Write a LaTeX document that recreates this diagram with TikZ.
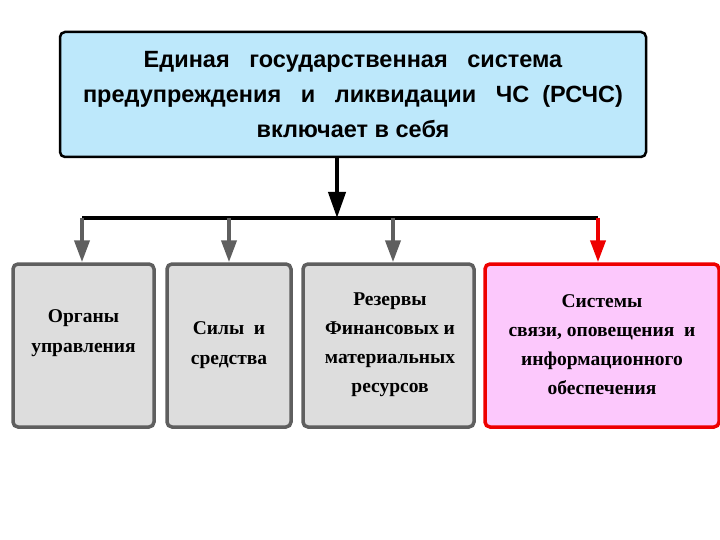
\documentclass[tikz,border=0pt]{standalone}
\usepackage{fontspec}
\setmainfont{Liberation Serif}
\setsansfont{Liberation Sans}
\usetikzlibrary{arrows.meta}
\definecolor{topfill}{HTML}{BDE8FB}
\definecolor{boxgray}{HTML}{5F5F5F}
\definecolor{boxfill}{HTML}{DDDDDD}
\definecolor{pinkfill}{HTML}{FCC8FC}
\definecolor{alertred}{HTML}{EE0000}
\begin{document}
\begin{tikzpicture}[x=1pt,y=1pt]
  \tikzset{
    part/.style={draw=boxgray, line width=3.5pt, fill=boxfill, rounded corners=5pt,
      inner sep=0pt, align=center},
    label/.style={font=\bfseries\fontsize{19.5}{29}\selectfont, align=center},
    feed/.style={draw=boxgray, line width=4pt, -{Triangle[width=15pt,length=22pt]}}
  }
  \useasboundingbox (0,0) rectangle (720,-540);
  % top block
  \node [draw=black, line width=2.5pt, fill=topfill, rounded corners=5pt,
    minimum width=586pt, minimum height=125pt, align=center,
    font=\sffamily\bfseries\fontsize{23.5}{35}\selectfont] (rschs) at (353,-94.5)
    {Единая \ \ государственная \ \ система\\
     предупреждения \ \ и \ \ ликвидации \ \ ЧС \ (РСЧС)\\
     включает в себя};
  % lower blocks
  \node [part, minimum width=141pt, minimum height=163pt] (organs) at (83.5,-345.5) {};
  \node [part, minimum width=124pt, minimum height=163pt] (forces) at (229,-345.5) {};
  \node [part, minimum width=171pt, minimum height=163pt] (reserves) at (388.5,-345.5) {};
  \node [part, draw=alertred, fill=pinkfill, minimum width=234pt, minimum height=163pt] (comms) at (602,-345.5) {};
  \node [label, font=\bfseries\fontsize{19.5}{30}\selectfont] (organsT) at (83.5,-333) {Органы\\управления};
  \node [label, font=\bfseries\fontsize{19.5}{30}\selectfont] (forcesT) at (229,-345) {Силы \ и\\средства};
  \node [label] (reservesT) at (390,-345) {Резервы\\Финансовых и\\материальных\\ресурсов};
  \node [label] (commsT) at (602,-345) {Системы\\ связи, оповещения \ и\\информационного\\обеспечения};
  % connectors
  \coordinate (hub) at (337,-218);
  \coordinate (barL) at (82,-218);
  \coordinate (barR) at (598,-218);
  \coordinate (b2) at (229,-218);
  \coordinate (b3) at (393,-218);
  \draw [line width=4pt, -{Triangle[width=17pt,length=26pt]}] (rschs.south -| hub) -- (hub);
  \draw [line width=4.5pt] (barL) -- (barR);
  \draw [feed] (barL) -- (barL |- organs.north);
  \draw [feed] (b2) -- (b2 |- forces.north);
  \draw [feed] (b3) -- (b3 |- reserves.north);
  \draw [feed, draw=alertred, fill=alertred] (barR) -- (barR |- comms.north);
\end{tikzpicture}
\end{document}
